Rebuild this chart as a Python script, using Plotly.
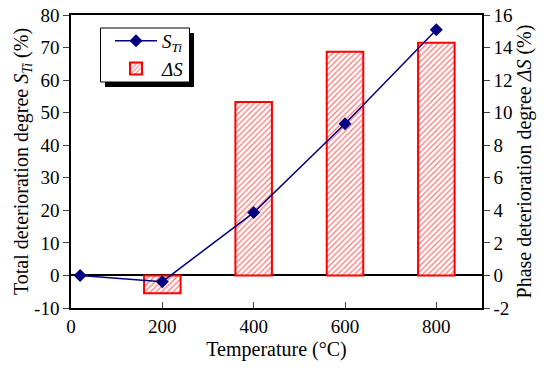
import plotly.graph_objects as go

temps_line = [20, 200, 400, 600, 800]
s_ti = [0, -1.9, 19.3, 46.6, 75.5]
temps_bar = [200, 400, 600, 800]
delta_s = [-1.1, 10.65, 13.75, 14.3]
x_ticks = [0, 200, 400, 600, 800]
left_ticks = [-10, 0, 10, 20, 30, 40, 50, 60, 70, 80]
right_ticks = [-2, 0, 2, 4, 6, 8, 10, 12, 14, 16]

FONT = "Times New Roman, Liberation Serif, serif"
TICK = dict(family=FONT, size=19, color="black")
TITLE = dict(family=FONT, size=20, color="black")

L, T, R, B = 71, 15, 68, 63
PW, PH = 550 - L - R, 371 - T - B


def px(x):
    return (x - L) / PW


def py(y):
    return (T + PH - y) / PH


fig = go.Figure()
fig.add_trace(go.Bar(
    x=temps_bar, y=delta_s, yaxis="y", width=80,
    name="<i>ΔS</i>",
    marker=dict(color="white", line=dict(color="red", width=2),
                pattern=dict(shape="/", fgcolor="red", bgcolor="white", size=4, solidity=0.35)),
))
fig.add_trace(go.Scatter(
    x=temps_line, y=s_ti, mode="lines+markers", yaxis="y2",
    name="<i>S<sub>Ti</sub></i>",
    line=dict(color="#000080", width=1.5),
    marker=dict(symbol="diamond", size=10, color="#000080"),
))

fig.update_layout(
    width=550, height=371,
    margin=dict(l=L, r=R, t=T, b=B),
    paper_bgcolor="white", plot_bgcolor="white",
    font=dict(family=FONT, size=19, color="black"),
    showlegend=True,
    legend=dict(x=px(110), y=py(22), xanchor="left", yanchor="top",
                bgcolor="rgba(0,0,0,0)", borderwidth=0,
                traceorder="reversed", font=dict(family=FONT, size=19), itemwidth=42,
                tracegroupgap=0),
    xaxis=dict(range=[0, 900], tickvals=x_ticks, ticks="inside", ticklen=6,
               showline=True, linecolor="black", linewidth=1.5, mirror=True,
               showgrid=False, zeroline=False, automargin=False,
               tickfont=TICK,
               title=dict(text="Temperature (°C)", standoff=6, font=TITLE)),
    yaxis=dict(range=[-2, 16], tickvals=right_ticks, ticktext=[str(v) for v in right_ticks],
               side="right", ticks="outside", ticklen=6,
               showline=True, linecolor="black", linewidth=1.5,
               showgrid=False, zeroline=True, zerolinecolor="black", zerolinewidth=1.5,
               automargin=False, tickfont=TICK,
               title=dict(text="Phase deterioration degree <i>ΔS</i> (%)", standoff=4, font=TITLE)),
    yaxis2=dict(range=[-10, 80], tickvals=left_ticks, ticktext=[str(v) for v in left_ticks],
                overlaying="y", side="left", ticks="outside", ticklen=6,
                showline=True, linecolor="black", linewidth=1.5,
                showgrid=False, zeroline=False, automargin=False,
                tickfont=TICK,
                title=dict(text="Total deterioration degree <i>S<sub>Ti</sub></i> (%)", standoff=0,
                           font=TITLE)),
    shapes=[
        dict(type="rect", xref="paper", yref="paper",
             x0=px(105), x1=px(194), y0=py(87), y1=py(33),
             fillcolor="black", line=dict(width=0), layer="above"),
        dict(type="rect", xref="paper", yref="paper",
             x0=px(100.5), x1=px(189.5), y0=py(82), y1=py(28),
             fillcolor="white", line=dict(color="black", width=1), layer="above"),
    ],
)

fig.write_html("out.html", config={"displayModeBar": False},
               post_script="document.body.style.margin='0';")
